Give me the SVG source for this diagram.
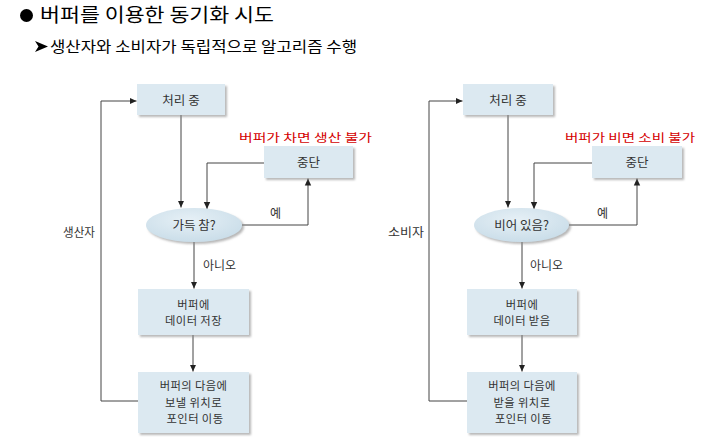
<svg xmlns="http://www.w3.org/2000/svg" width="705" height="438" viewBox="0 0 705 438">
<defs>
<style>
.t{font-family:"Noto Sans CJK KR","Noto Sans",sans-serif;fill:#333;font-size:12.5px;text-anchor:middle}
.m{font-size:11.3px;letter-spacing:0.4px}
.lbl{font-family:"Noto Sans CJK KR","Noto Sans",sans-serif;fill:#333;font-size:12px}
.red{font-family:"Noto Sans CJK KR",sans-serif;fill:#d40000;font-size:11.5px;text-anchor:middle}
.box{fill:#dce9f1;filter:url(#sh)}
.ell{fill:url(#eg);filter:url(#sh)}
.ln{fill:none;stroke:#444;stroke-width:1}
.arr{marker-end:url(#ah)}
</style>
<filter id="sh" x="-10%" y="-10%" width="130%" height="140%">
<feDropShadow dx="2" dy="2" stdDeviation="1.2" flood-color="#888" flood-opacity="0.6"/>
</filter>
<radialGradient id="eg" cx="0.45" cy="0.35" r="0.7">
<stop offset="0" stop-color="#e6f0f6"/>
<stop offset="1" stop-color="#c8dce8"/>
</radialGradient>
<marker id="ah" markerWidth="8" markerHeight="8" refX="7" refY="4" orient="auto" markerUnits="userSpaceOnUse">
<path d="M0,0.8 L7,4 L0,7.2 Z" fill="#222"/>
</marker>
</defs>
<rect width="705" height="438" fill="#fff"/>

<g id="title">
<circle cx="26.5" cy="15.5" r="6.5" fill="#000"/>
<text x="40" y="22" font-family="'Noto Sans CJK KR',sans-serif" font-size="19" fill="#000" textLength="234" lengthAdjust="spacingAndGlyphs">버퍼를 이용한 동기화 시도</text>
</g>
<g id="subtitle">
<path d="M35,41 L48,46.5 L35,52 L38.5,46.5 Z" fill="#000"/>
<text x="50" y="52" font-family="'Noto Sans CJK KR',sans-serif" font-size="14.5" fill="#000" textLength="307" lengthAdjust="spacingAndGlyphs">생산자와 소비자가 독립적으로 알고리즘 수행</text>
</g>

<g id="connectors">
<path class="ln arr" d="M181,115 V207.5"/>
<path class="ln arr" d="M264,163 H207 V209"/>
<path class="ln arr" d="M242,225 H308 V178.5"/>
<path class="ln arr" d="M194,242 V288.5"/>
<path class="ln arr" d="M193,335 V371.5"/>
<path class="ln arr" d="M138,401 H101 V101 H136.5"/>

<path class="ln arr" d="M508,115 V207.5"/>
<path class="ln arr" d="M592,163 H534 V209"/>
<path class="ln arr" d="M569,225 H637 V178.5"/>
<path class="ln arr" d="M522,242 V288.5"/>
<path class="ln arr" d="M522,335 V371.5"/>
<path class="ln arr" d="M467,401 H429 V101 H462.5"/>
</g>

<g id="labels">
<text class="lbl" x="63" y="237" textLength="32" lengthAdjust="spacingAndGlyphs">생산자</text>
<text class="lbl" x="270" y="218">예</text>
<text class="lbl" x="203" y="270">아니오</text>
<text class="red" x="305.5" y="142" textLength="133" lengthAdjust="spacingAndGlyphs">버퍼가 차면 생산 불가</text>

<text class="lbl" x="388" y="237" textLength="36" lengthAdjust="spacingAndGlyphs">소비자</text>
<text class="lbl" x="597" y="218">예</text>
<text class="lbl" x="530" y="270">아니오</text>
<text class="red" x="630" y="142" textLength="130" lengthAdjust="spacingAndGlyphs">버퍼가 비면 소비 불가</text>
</g>

<g id="p-processing">
<rect class="box" x="137" y="84" width="88" height="31"/>
<text class="t" x="181" y="104.5">처리 중</text>
</g>
<g id="p-stop">
<rect class="box" x="264" y="146" width="89" height="32"/>
<text class="t" x="308.5" y="166.5">중단</text>
</g>
<g id="p-full">
<ellipse class="ell" cx="194" cy="225" rx="48" ry="17"/>
<text class="t" x="194" y="229.5">가득 참?</text>
</g>
<g id="p-store">
<rect class="box" x="138" y="289" width="111" height="46"/>
<text class="t m"><tspan x="193.5" y="308.5">버퍼에</tspan><tspan x="193.5" y="325">데이터 저장</tspan></text>
</g>
<g id="p-move">
<rect class="box" x="138" y="372" width="111" height="61"/>
<text class="t m"><tspan x="193.5" y="390">버퍼의 다음에</tspan><tspan x="193.5" y="406.5">보낼 위치로</tspan><tspan x="195" y="423">포인터 이동</tspan></text>
</g>

<g id="c-processing">
<rect class="box" x="463" y="84" width="90" height="31"/>
<text class="t" x="508" y="104.5">처리 중</text>
</g>
<g id="c-stop">
<rect class="box" x="592" y="146" width="90" height="32"/>
<text class="t" x="637" y="166.5">중단</text>
</g>
<g id="c-empty">
<ellipse class="ell" cx="521.5" cy="225" rx="47.5" ry="17"/>
<text class="t" x="521.5" y="229.5">비어 있음?</text>
</g>
<g id="c-receive">
<rect class="box" x="467" y="289" width="110" height="46"/>
<text class="t m"><tspan x="522" y="308.5">버퍼에</tspan><tspan x="522" y="325">데이터 받음</tspan></text>
</g>
<g id="c-move">
<rect class="box" x="467" y="372" width="110" height="61"/>
<text class="t m"><tspan x="522" y="390">버퍼의 다음에</tspan><tspan x="522" y="406.5">받을 위치로</tspan><tspan x="523.5" y="423">포인터 이동</tspan></text>
</g>
</svg>
